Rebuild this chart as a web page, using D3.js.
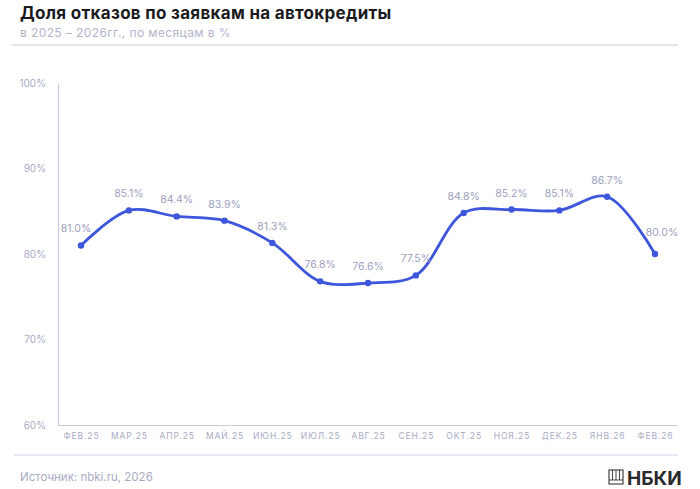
<!DOCTYPE html>
<html><head><meta charset="utf-8">
<script src="https://cdn.jsdelivr.net/npm/d3@7"></script>
<style>body{margin:0;background:#fff;}svg{display:block;font-family:Inter,"Noto Sans",sans-serif;}</style>
</head><body>
<svg id="c" width="700" height="489"></svg>
<script>
const months = ["ФЕВ.25","МАР.25","АПР.25","МАЙ.25","ИЮН.25","ИЮЛ.25","АВГ.25","СЕН.25","ОКТ.25","НОЯ.25","ДЕК.25","ЯНВ.26","ФЕВ.26"];
const values = [81.0,85.1,84.4,83.9,81.3,76.8,76.6,77.5,84.8,85.2,85.1,86.7,80.0];
const yTicks = [60,70,80,90,100];

const svg = d3.select("#c");
const x = d3.scalePoint().domain(months).range([81,655]);
const y = d3.scaleLinear().domain([60,100]).range([425,83]);

svg.append("text").attr("x",20).attr("y",19).attr("font-size",17).attr("font-weight",700).attr("letter-spacing","0.3px").attr("fill","#1b1b1f").text("Доля отказов по заявкам на автокредиты");
svg.append("text").attr("x",20).attr("y",37).attr("font-size",12).attr("letter-spacing","0.4px").attr("fill","#b3b5cb").text("в 2025 – 2026гг., по месяцам в %");
svg.append("line").attr("x1",12).attr("x2",678).attr("y1",45).attr("y2",45).attr("stroke","#dcdde8").attr("stroke-width",1.5);

// y axis
const ya = svg.append("g").attr("transform","translate(58,0)")
  .call(d3.axisLeft(y).tickValues(yTicks).tickSize(0).tickPadding(12).tickFormat(d=>d+"%"));
ya.select(".domain").attr("stroke","#c9cbe1").attr("stroke-width",1.2);
ya.selectAll("text").attr("font-size",10).attr("fill","#a9abc4").attr("font-family","Inter,sans-serif");

// x axis
const xa = svg.append("g").attr("transform","translate(0,425)")
  .call(d3.axisBottom(x).tickSize(0).tickPadding(8));
xa.select(".domain").attr("d","M58,0.5H678").attr("stroke","#c9cbe1").attr("stroke-width",1.2);
xa.selectAll("text").attr("font-size",8.5).attr("fill","#a9abc4").attr("letter-spacing","0.9px").attr("font-family","Inter,sans-serif");

svg.append("line").attr("x1",14).attr("x2",678).attr("y1",455).attr("y2",455).attr("stroke","#cfd1e3").attr("stroke-width",1.2);

const line = d3.line().x((d,i)=>x(months[i])).y(d=>y(d)).curve(d3.curveCatmullRom.alpha(0.5));
svg.append("path").datum(values).attr("d",line).attr("fill","none").attr("stroke","#3d56db").attr("stroke-width",2.8).attr("stroke-linejoin","round");

svg.selectAll("circle.p").data(values).join("circle").attr("class","p")
  .attr("cx",(d,i)=>x(months[i])).attr("cy",d=>y(d)).attr("r",3.2).attr("fill","#3d56db");

const n = values.length;
svg.selectAll("text.lbl").data(values).join("text").attr("class","lbl")
  .attr("x",(d,i)=>x(months[i]) + (i===0?-5:(i===n-1?7:0))).attr("y",(d,i)=>y(d)-(i===n-1?18:13)).attr("text-anchor","middle")
  .attr("font-size",10.5).attr("fill","#9d9fbe").text(d=>d.toFixed(1)+"%");

svg.append("text").attr("x",20).attr("y",481).attr("font-size",11.5).attr("fill","#a9abc4").text("Источник: nbki.ru, 2026");

// logo
const lg = svg.append("g").attr("transform","translate(609,470)");
lg.append("rect").attr("x",0).attr("y",0).attr("width",14).attr("height",14).attr("fill","none").attr("stroke","#444").attr("stroke-width",1.2);
[3.5,7,10.5].forEach(v=>lg.append("line").attr("x1",v).attr("x2",v).attr("y1",0).attr("y2",10).attr("stroke","#444").attr("stroke-width",1));
lg.append("line").attr("x1",0).attr("x2",14).attr("y1",10).attr("y2",10).attr("stroke","#444").attr("stroke-width",1);
svg.append("text").attr("x",627).attr("y",485).attr("font-size",19).attr("font-weight",700).attr("fill","#2a2a2e").text("НБКИ");
</script>
</body></html>
